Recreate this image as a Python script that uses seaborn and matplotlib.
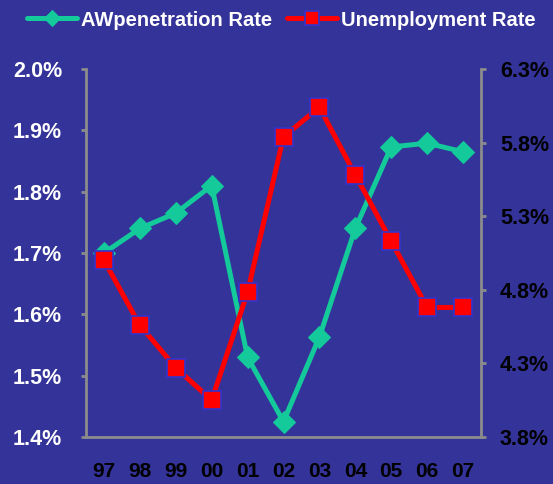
import numpy as np
import pandas as pd
import matplotlib
matplotlib.use("Agg")
import matplotlib.pyplot as plt
import seaborn as sns
from matplotlib.ticker import FuncFormatter

years = ["97", "98", "99", "00", "01", "02", "03", "04", "05", "06", "07"]
aw_rate = [1.70, 1.74, 1.765, 1.81, 1.53, 1.425, 1.563, 1.74, 1.873, 1.879, 1.865]
unemp_rate = [5.00, 4.56, 4.27, 4.05, 4.785, 5.84, 6.04, 5.58, 5.13, 4.68, 4.68]

bg = "#333399"
green = "#14C99A"
red = "#FF0000"
grey = "#8C8C8C"

sns.set_style("white")
plt.rcParams["font.family"] = ["Liberation Sans", "DejaVu Sans"]
plt.rcParams["font.weight"] = "bold"

df = pd.DataFrame({"pos": np.arange(len(years)), "aw": aw_rate, "unemp": unemp_rate})

fig = plt.figure(figsize=(5.53, 4.84), dpi=100, facecolor=bg)
ax = fig.add_axes([86 / 553, 1 - 437 / 484, (481 - 86) / 553, (437 - 69) / 484])
ax.set_facecolor(bg)
ax2 = ax.twinx()

sns.lineplot(data=df, x="pos", y="aw", ax=ax, color=green, linewidth=3.6,
             marker="D", markersize=11.5, markeredgecolor=green)
sns.lineplot(data=df, x="pos", y="unemp", ax=ax2, color=red, linewidth=3.6,
             marker="s", markersize=13, markeredgecolor="#3333CC",
             markeredgewidth=1.2)

fmt = FuncFormatter(lambda v, p: f"{v:.1f}%")
ax.set_xlim(-0.5, len(years) - 0.5)
ax.set_ylim(1.4, 2.0)
ax.set_yticks(np.arange(1.4, 2.01, 0.1))
ax.yaxis.set_major_formatter(fmt)
ax2.set_ylim(3.8, 6.3)
ax2.set_yticks(np.arange(3.8, 6.31, 0.5))
ax2.yaxis.set_major_formatter(fmt)

ax.set_xticks(np.arange(len(years)))
ax.set_xticklabels(years)
ax.set_xticks(np.arange(-0.5, len(years)), minor=True)
ax.tick_params(axis="x", which="major", length=0, pad=18, labelsize=15,
               labelcolor="black")
ax.tick_params(axis="x", which="minor", length=3.6, width=2, color=grey, direction="out")
ax.tick_params(axis="y", length=3.6, width=2, color=grey, labelsize=15.5,
               labelcolor="white", pad=13.5)
ax2.tick_params(axis="y", length=3.6, width=2, color=grey, labelsize=15.5,
                labelcolor="black", pad=10)
for lab in ax.get_xticklabels() + ax.get_yticklabels() + ax2.get_yticklabels():
    lab.set_fontweight("bold")
ax.set_xlabel("")
ax.set_ylabel("")
ax2.set_ylabel("")

for a in (ax, ax2):
    a.spines["top"].set_visible(False)
    for s in ("left", "right", "bottom"):
        a.spines[s].set_color(grey)
        a.spines[s].set_linewidth(2)
ax.spines["right"].set_visible(False)
ax2.spines["left"].set_visible(False)
ax2.spines["bottom"].set_visible(False)

h1 = ax.get_lines()[0]
h2 = ax2.get_lines()[0]
leg = fig.legend([h1, h2], ["AWpenetration Rate", "Unemployment Rate"],
                 loc="center left", bbox_to_anchor=(27 / 553, 1 - 20 / 484), ncol=2,
                 frameon=False, fontsize=14.5, handlelength=2.5, borderpad=0,
                 borderaxespad=0, handletextpad=0.2, columnspacing=0.7,
                 markerscale=0.75)
for t in leg.get_texts():
    t.set_color("white")
    t.set_fontweight("bold")

fig.savefig("out.png", dpi=100, facecolor=bg)
